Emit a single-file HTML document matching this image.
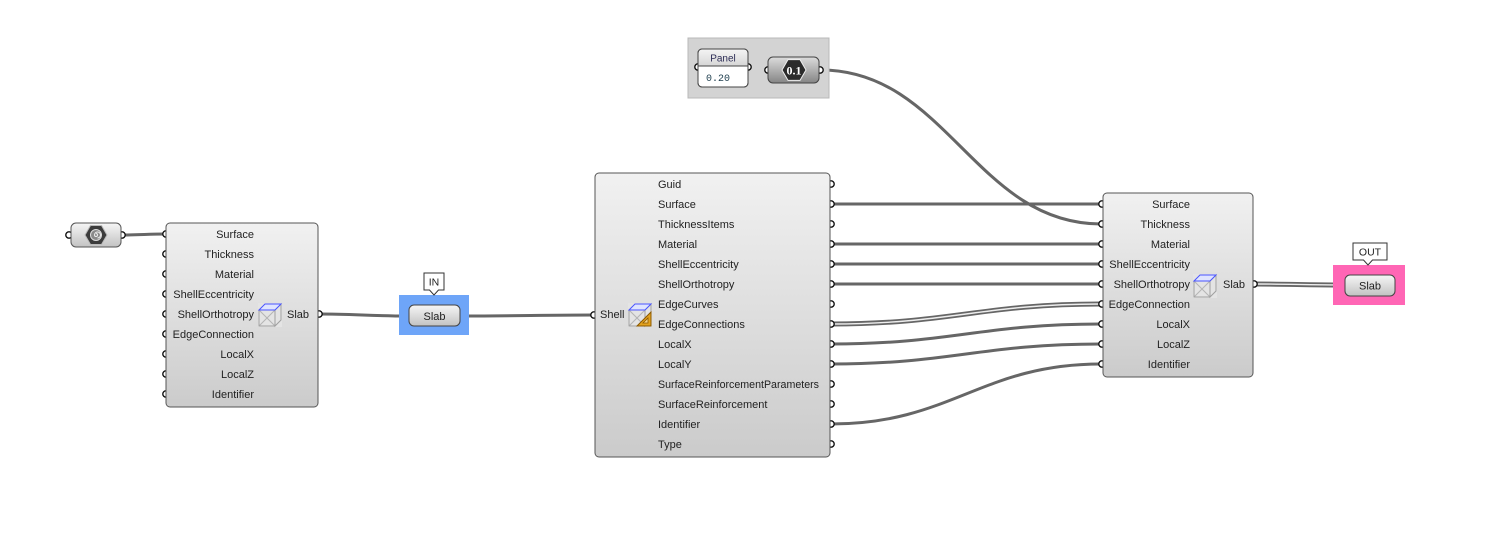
<!DOCTYPE html>
<html>
<head>
<meta charset="utf-8">
<style>
html,body{margin:0;padding:0;background:#fff;}
svg{display:block;}
text{font-family:"Liberation Sans",Arial,sans-serif;font-size:11px;fill:#222;}
</style>
</head>
<body>
<svg width="1497" height="554" viewBox="0 0 1497 554" xmlns="http://www.w3.org/2000/svg">
<defs>
  <linearGradient id="gBox" x1="0" y1="0" x2="0" y2="1">
    <stop offset="0" stop-color="#f1f1f1"/>
    <stop offset="1" stop-color="#cbcbcb"/>
  </linearGradient>
  <linearGradient id="gPill" x1="0" y1="0" x2="0" y2="1">
    <stop offset="0" stop-color="#f6f6f6"/>
    <stop offset="1" stop-color="#c2c2c2"/>
  </linearGradient>
  <linearGradient id="gDark" x1="0" y1="0" x2="0" y2="1">
    <stop offset="0" stop-color="#dcdcdc"/>
    <stop offset="1" stop-color="#858585"/>
  </linearGradient>
  <linearGradient id="gHead" x1="0" y1="0" x2="0" y2="1">
    <stop offset="0" stop-color="#f4f4f4"/>
    <stop offset="1" stop-color="#d6d6d6"/>
  </linearGradient>
  <g id="slabIcon">
    <rect x="0" y="0" width="24" height="24" fill="#e4e4e4"/>
    <line x1="1" y1="7" x2="17" y2="23" stroke="#b4b4b4" stroke-width="1"/>
    <line x1="17" y1="7" x2="1" y2="23" stroke="#b4b4b4" stroke-width="1"/>
    <rect x="1" y="7" width="16" height="16" fill="none" stroke="#a0a0a0" stroke-width="1"/>
    <polygon points="17,7 23,1 23,17 17,23" fill="none" stroke="#a0a0a0" stroke-width="1"/>
    <polygon points="1,7 7,1 23,1 17,7" fill="#dfe4ff" stroke="#4a55ff" stroke-width="1"/>
  </g>
</defs>

<!-- ===== WIRES ===== -->
<g fill="none" stroke="#666" stroke-width="3" stroke-linecap="round">
  <path d="M122,235 C140,235 148,234 165,234"/>
  <path d="M319,314 C350,314 375,316 407,316"/>
  <path d="M461,316 C520,316 540,315 594,315"/>
  <path d="M831,204 L1101,204"/>
  <path d="M831,244 L1101,244"/>
  <path d="M831,264 L1101,264"/>
  <path d="M831,284 L1101,284"/>
  <path d="M831,344 C951,344 981,324 1101,324"/>
  <path d="M831,364 C951,364 981,344 1101,344"/>
  <path d="M831,424 C951,424 981,364 1101,364"/>
  <path d="M749,67 C757,67 759,70 767,70"/>
  <path d="M821,70 C946,70 976,224 1101,224"/>
</g>
<!-- double (list) wires -->
<g fill="none" stroke-linecap="round">
  <path d="M831,324 C951,324 981,304 1101,304" stroke="#666" stroke-width="5"/>
  <path d="M831,324 C951,324 981,304 1101,304" stroke="#eee" stroke-width="1.4"/>
  <path d="M1255,284 C1290,284 1305,285 1343,285" stroke="#666" stroke-width="5"/>
  <path d="M1255,284 C1290,284 1305,285 1343,285" stroke="#eee" stroke-width="1.4"/>
</g>

<!-- ===== PANEL GROUP ===== -->
<rect x="688" y="38" width="141" height="60" fill="#d3d3d3" stroke="#b8b8b8" stroke-width="1"/>

<!-- ===== PORTS ===== -->
<g fill="#fff" stroke="#111" stroke-width="1.4">
  <!-- hex component -->
  <circle cx="69" cy="235" r="3.2"/>
  <circle cx="122" cy="235" r="3.2"/>
  <!-- left slab inputs -->
  <circle cx="166" cy="234" r="3.2"/>
  <circle cx="166" cy="254" r="3.2"/>
  <circle cx="166" cy="274" r="3.2"/>
  <circle cx="166" cy="294" r="3.2"/>
  <circle cx="166" cy="314" r="3.2"/>
  <circle cx="166" cy="334" r="3.2"/>
  <circle cx="166" cy="354" r="3.2"/>
  <circle cx="166" cy="374" r="3.2"/>
  <circle cx="166" cy="394" r="3.2"/>
  <circle cx="319" cy="314" r="3.2"/>
  <!-- IN -->
  <circle cx="408" cy="316" r="3.2"/>
  <circle cx="461" cy="316" r="3.2"/>
  <!-- Shell -->
  <circle cx="594" cy="315" r="3.2"/>
  <circle cx="831" cy="184" r="3.2"/>
  <circle cx="831" cy="204" r="3.2"/>
  <circle cx="831" cy="224" r="3.2"/>
  <circle cx="831" cy="244" r="3.2"/>
  <circle cx="831" cy="264" r="3.2"/>
  <circle cx="831" cy="284" r="3.2"/>
  <circle cx="831" cy="304" r="3.2"/>
  <circle cx="831" cy="324" r="3.2"/>
  <circle cx="831" cy="344" r="3.2"/>
  <circle cx="831" cy="364" r="3.2"/>
  <circle cx="831" cy="384" r="3.2"/>
  <circle cx="831" cy="404" r="3.2"/>
  <circle cx="831" cy="424" r="3.2"/>
  <circle cx="831" cy="444" r="3.2"/>
  <!-- right slab -->
  <circle cx="1102" cy="204" r="3.2"/>
  <circle cx="1102" cy="224" r="3.2"/>
  <circle cx="1102" cy="244" r="3.2"/>
  <circle cx="1102" cy="264" r="3.2"/>
  <circle cx="1102" cy="284" r="3.2"/>
  <circle cx="1102" cy="304" r="3.2"/>
  <circle cx="1102" cy="324" r="3.2"/>
  <circle cx="1102" cy="344" r="3.2"/>
  <circle cx="1102" cy="364" r="3.2"/>
  <circle cx="1254" cy="284" r="3.2"/>
  <!-- OUT -->
  <circle cx="1344" cy="285" r="3.2"/>
  <circle cx="1395" cy="285" r="3.2"/>
  <!-- panel & number -->
  <circle cx="698" cy="67" r="3.2"/>
  <circle cx="748" cy="67" r="3.2"/>
  <circle cx="768" cy="70" r="3.2"/>
  <circle cx="820" cy="70" r="3.2"/>
</g>

<!-- ===== HEX COMPONENT (left) ===== -->
<rect x="71" y="223" width="50" height="24" rx="5" fill="url(#gPill)" stroke="#555" stroke-width="1"/>
<polygon points="85,235 90.5,225.5 101.5,225.5 107,235 101.5,244.5 90.5,244.5" fill="#3c3c3c" stroke="#bbb" stroke-width="1"/>
<circle cx="96" cy="235" r="5.5" fill="#8a8a8a" stroke="#ddd" stroke-width="1"/>
<path d="M96,235 m0,-1.5 a1.5,1.5 0 1 1 -1.5,1.5 a3,3 0 1 1 3,3" fill="none" stroke="#eee" stroke-width="1"/>

<!-- ===== LEFT SLAB ===== -->
<rect x="166" y="223" width="152" height="184" rx="4" fill="url(#gBox)" stroke="#555" stroke-width="1"/>
<g text-anchor="end">
  <text x="254" y="238">Surface</text>
  <text x="254" y="258">Thickness</text>
  <text x="254" y="278">Material</text>
  <text x="254" y="298">ShellEccentricity</text>
  <text x="254" y="318">ShellOrthotropy</text>
  <text x="254" y="338">EdgeConnection</text>
  <text x="254" y="358">LocalX</text>
  <text x="254" y="378">LocalZ</text>
  <text x="254" y="398">Identifier</text>
</g>
<use href="#slabIcon" x="258" y="303"/>
<text x="287" y="318">Slab</text>

<!-- ===== IN PARAM ===== -->
<rect x="399" y="295" width="70" height="40" fill="#6ea5f8"/>
<rect x="409" y="305" width="51" height="21" rx="5" fill="url(#gPill)" stroke="#444" stroke-width="1"/>
<text x="434.5" y="320" text-anchor="middle">Slab</text>
<path d="M424,273 L444,273 L444,290 L438.5,290 L434,295 L429.5,290 L424,290 Z" fill="#fff" stroke="#333" stroke-width="1"/>
<text x="434" y="285.5" text-anchor="middle" style="font-size:10.5px">IN</text>

<!-- ===== SHELL DECONSTRUCT ===== -->
<rect x="595" y="173" width="235" height="284" rx="4" fill="url(#gBox)" stroke="#555" stroke-width="1"/>
<g>
  <text x="658" y="188">Guid</text>
  <text x="658" y="208">Surface</text>
  <text x="658" y="228">ThicknessItems</text>
  <text x="658" y="248">Material</text>
  <text x="658" y="268">ShellEccentricity</text>
  <text x="658" y="288">ShellOrthotropy</text>
  <text x="658" y="308">EdgeCurves</text>
  <text x="658" y="328">EdgeConnections</text>
  <text x="658" y="348">LocalX</text>
  <text x="658" y="368">LocalY</text>
  <text x="658" y="388" textLength="161" lengthAdjust="spacingAndGlyphs">SurfaceReinforcementParameters</text>
  <text x="658" y="408">SurfaceReinforcement</text>
  <text x="658" y="428">Identifier</text>
  <text x="658" y="448">Type</text>
</g>
<text x="600" y="318">Shell</text>
<use href="#slabIcon" x="628" y="303"/>
<polygon points="637,326 651,326 651,312" fill="#e3a21e" stroke="#8a5800" stroke-width="1"/>
<polygon points="643,323 648,323 648,318" fill="#f6d488" stroke="#8a5800" stroke-width="0.8"/>

<!-- ===== PANEL ===== -->
<rect x="698" y="49" width="50" height="38" rx="4" fill="#fff" stroke="#444" stroke-width="1"/>
<path d="M698.5,66 L698.5,53 Q698.5,49.5 702,49.5 L744,49.5 Q747.5,49.5 747.5,53 L747.5,66 Z" fill="url(#gHead)"/>
<line x1="698" y1="66" x2="748" y2="66" stroke="#444" stroke-width="1"/>
<rect x="698" y="49" width="50" height="38" rx="4" fill="none" stroke="#444" stroke-width="1"/>
<text x="723" y="61.5" text-anchor="middle" style="font-size:10px;fill:#2c2c55">Panel</text>
<text x="706" y="81" style="font-family:'Liberation Mono',monospace;font-size:10px;fill:#1c3c4c">0.20</text>

<!-- ===== NUMBER (0.1) ===== -->
<rect x="768" y="57" width="51" height="26" rx="5" fill="url(#gDark)" stroke="#444" stroke-width="1"/>
<polygon points="782,70 788,59.6 800,59.6 806,70 800,80.4 788,80.4" fill="#2b2b2b" stroke="#eee" stroke-width="1"/>
<text x="794" y="74.5" text-anchor="middle" style="font-family:'Liberation Serif',serif;font-weight:bold;font-size:12px;fill:#fff">0.1</text>

<!-- ===== RIGHT SLAB ===== -->
<rect x="1103" y="193" width="150" height="184" rx="4" fill="url(#gBox)" stroke="#555" stroke-width="1"/>
<g text-anchor="end">
  <text x="1190" y="208">Surface</text>
  <text x="1190" y="228">Thickness</text>
  <text x="1190" y="248">Material</text>
  <text x="1190" y="268">ShellEccentricity</text>
  <text x="1190" y="288">ShellOrthotropy</text>
  <text x="1190" y="308">EdgeConnection</text>
  <text x="1190" y="328">LocalX</text>
  <text x="1190" y="348">LocalZ</text>
  <text x="1190" y="368">Identifier</text>
</g>
<use href="#slabIcon" x="1193" y="274"/>
<text x="1223" y="288">Slab</text>

<!-- ===== OUT PARAM ===== -->
<rect x="1333" y="265" width="72" height="40" fill="#ff66b5"/>
<rect x="1345" y="275" width="50" height="21" rx="5" fill="url(#gPill)" stroke="#444" stroke-width="1"/>
<text x="1370" y="289.5" text-anchor="middle">Slab</text>
<path d="M1353,243 L1387,243 L1387,260 L1372.5,260 L1368,265 L1363.5,260 L1353,260 Z" fill="#fff" stroke="#333" stroke-width="1"/>
<text x="1370" y="255.5" text-anchor="middle" style="font-size:10.5px">OUT</text>
</svg>
</body>
</html>
